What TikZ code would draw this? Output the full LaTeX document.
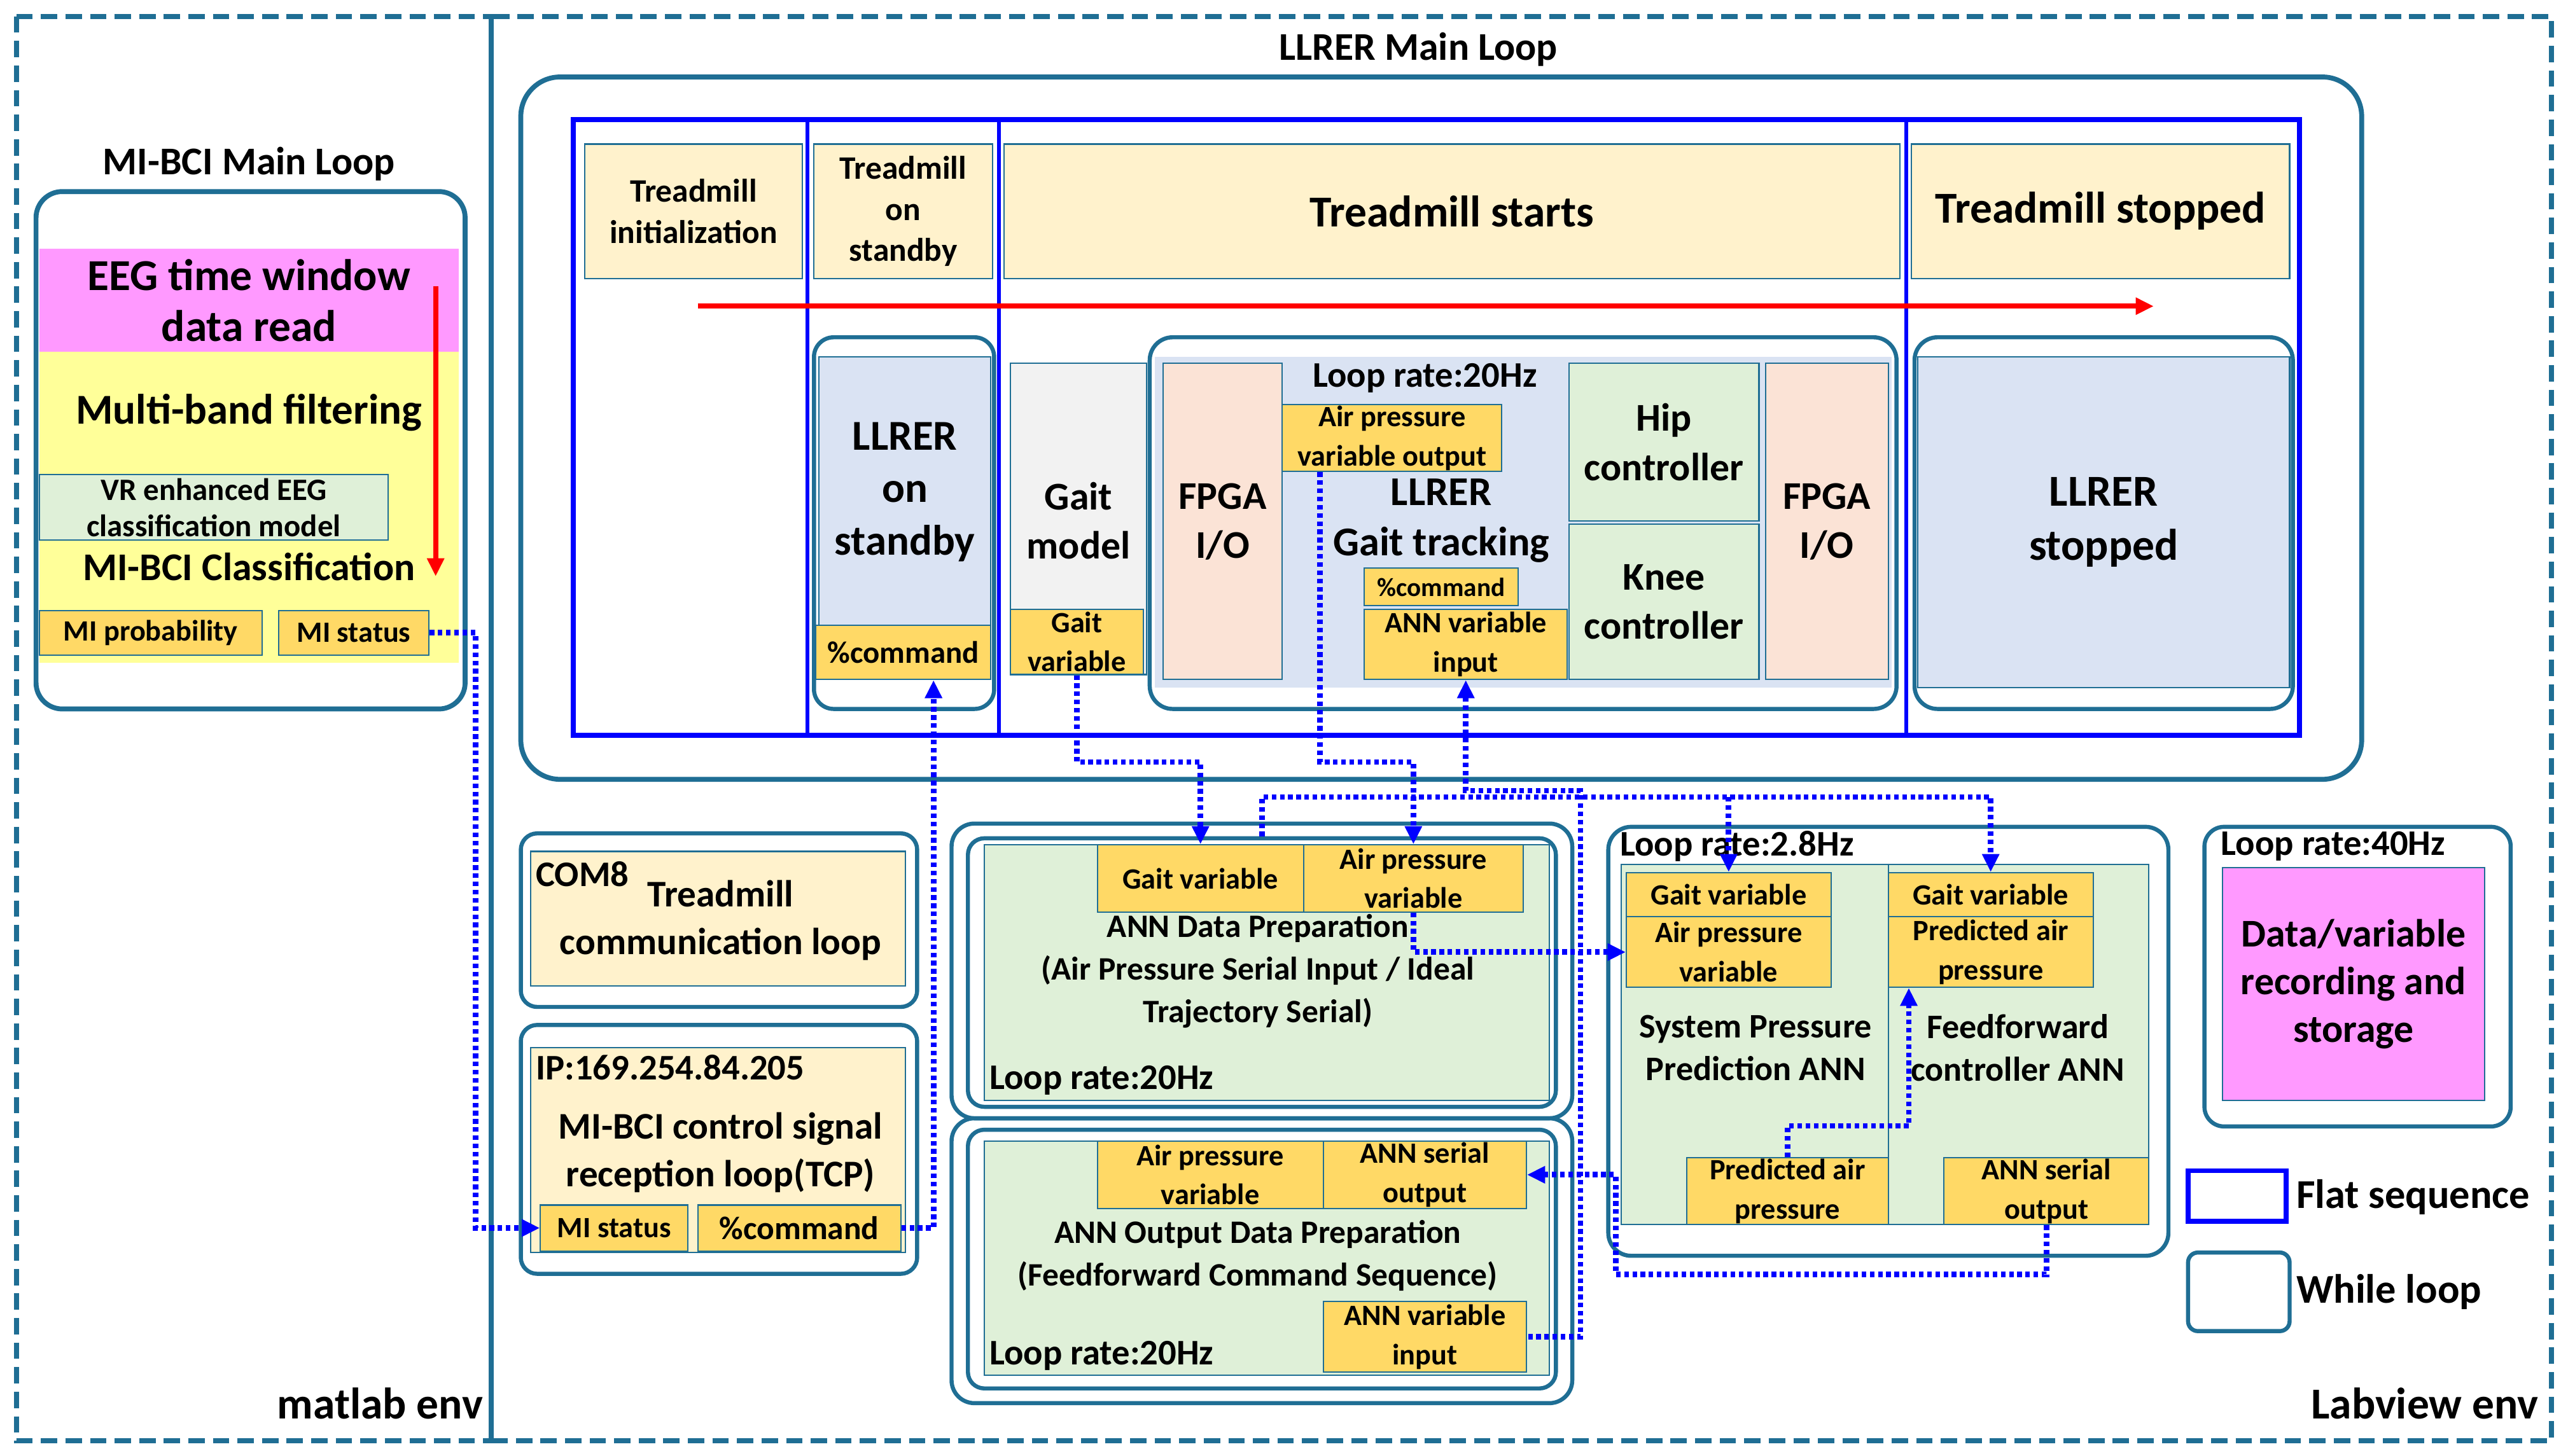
\documentclass[tikz,border=0pt]{standalone}
\usepackage{fontspec}
\setmainfont{Carlito}
\usetikzlibrary{arrows.meta,calc}
\definecolor{teal}{HTML}{1F6E94}
\definecolor{lb}{HTML}{DAE3F3}
\definecolor{gy}{HTML}{FFD966}
\definecolor{bg}{HTML}{FFF2CC}
\definecolor{gn}{HTML}{DFF0D8}
\definecolor{pk}{HTML}{FBE3D6}
\definecolor{mg}{HTML}{FF99FF}
\definecolor{yl}{HTML}{FFFF99}
\newcommand{\fs}[2]{\bfseries\fontsize{#1}{#2}\selectfont}
\begin{document}
\begin{tikzpicture}[x=1pt,y=-1pt,
 every node/.style={font=\bfseries,align=center,inner sep=0pt},
 bx/.style={draw=teal,line width=0.8pt,minimum width=#1},
 loop/.style={draw=teal,line width=3pt,rounded corners=16pt},
 lbl/.style={bx=#1,fill=gy,font=\fs{18}{22}},
 lbl2/.style={bx=#1,fill=gy,font=\fs{18}{24}},
 big/.style={font=\fs{27}{31}},
 mid/.style={font=\fs{24}{28}},
 conn/.style={draw=blue,line width=3.4pt,dash pattern=on 2.8pt off 2.2pt,-{Triangle[length=11pt,width=10pt]}}]
\useasboundingbox (0,0) rectangle (1568,889);
\fill[white] (0,0) rectangle (1568,889);
% env boxes
\draw[teal,line width=3pt,dash pattern=on 10pt off 5pt] (10,10) rectangle (300,880);
\draw[teal,line width=3pt,dash pattern=on 10pt off 5pt] (300,10) rectangle (1558,880);
\node[big,anchor=east] (matlab) at (295,857) {matlab env};
\node[big,anchor=east] (labview) at (1550,857) {Labview env};
% MI-BCI
\node[mid] (mititle) at (152,100) {MI-BCI Main Loop};
\node[loop,minimum width=262,minimum height=316] (miloop) at (153,275) {};
\node[fill=mg,minimum width=256,minimum height=63,font=\fs{27}{31}] (eeg) at (152,183.5) {EEG time window\\data read};
\node[fill=yl,minimum width=256,minimum height=190] (yel) at (152,310) {};
\node[font=\fs{26}{30}] (mbf) at (152,252) {Multi-band filtering};
\node[bx=213,minimum height=40,fill=gn,font=\fs{19}{22}] (vr) at (130.5,310) {VR enhanced EEG\\classification model};
\node[font=\fs{24}{28}] (mcls) at (152,346) {MI-BCI Classification};
\node[lbl=136,minimum height=27] (miprob) at (92,386.5) {MI probability};
\node[lbl=92,minimum height=27] (mist) at (216,386.5) {MI status};
\coordinate (ra) at (266,175); \coordinate (rb) at (266,352);
\draw[red,line width=3pt,-{Triangle[length=11pt,width=10pt]}] (ra) -- (rb);
% LLRER main
\node[mid] (lltitle) at (866,30) {LLRER Main Loop};
\node[loop,minimum width=1124,minimum height=429,rounded corners=24pt] (llloop) at (880,261.5) {};
\node[draw=blue,line width=3pt,minimum width=1054,minimum height=376] (flat) at (877,261) {};
\draw[blue,line width=2.5pt] (493,73) -- (493,449) (610,73) -- (610,449) (1164,73) -- (1164,449);
\node[bx=133,minimum height=82,fill=bg,font=\fs{20}{25}] (tinit) at (423.5,129) {Treadmill\\initialization};
\node[bx=109,minimum height=82,fill=bg,font=\fs{20}{25}] (tstand) at (551.5,129) {Treadmill\\on\\standby};
\node[bx=547,minimum height=82,fill=bg,big] (tstart) at (886.5,129) {Treadmill starts};
\node[bx=231,minimum height=82,fill=bg,big] (tstop) at (1282.5,129) {Treadmill stopped};
\coordinate (ta) at (426,187); \coordinate (tb) at (1315,187);
\draw[red,line width=3pt,-{Triangle[length=11pt,width=10pt]}] (ta) -- (tb);
% standby
\node[loop,minimum width=110,minimum height=227,line width=2.5pt,rounded corners=12pt] (sbloop) at (552,319.5) {};
\node[bx=105,minimum height=165,fill=lb,font=\fs{26}{32}] (sbin) at (552.5,300.5) {LLRER\\on\\standby};
\node[lbl=107,minimum height=33,font=\fs{19}{22}] (cmd1) at (551.5,398.5) {\%command};
% gait model
\node[bx=83,minimum height=190,fill=gray!10] (gm) at (658.5,317) {};
\node[font=\fs{24}{30}] (gmt) at (658.5,318) {Gait\\model};
\node[lbl2=81,minimum height=40] (gvar) at (657.5,392) {Gait\\variable};
% tracking
\node[loop,minimum width=456,minimum height=227,line width=2.5pt,rounded corners=14pt] (trloop) at (930,319.5) {};
\node[fill=lb,minimum width=450,minimum height=202] (trin) at (930,319) {};
\node[bx=73,minimum height=193,fill=pk,font=\fs{24}{30}] (fpga1) at (746.5,318.5) {FPGA\\I/O};
\node[bx=116,minimum height=96,fill=gn,font=\fs{24}{30}] (hip) at (1016,270) {Hip\\controller};
\node[bx=116,minimum height=95,fill=gn,font=\fs{24}{30}] (knee) at (1016,367.5) {Knee\\controller};
\node[bx=75,minimum height=193,fill=pk,font=\fs{24}{30}] (fpga2) at (1115.5,318.5) {FPGA\\I/O};
\node[font=\fs{22}{26}] (lr1) at (870,231) {Loop rate:20Hz};
\node[lbl2=134,minimum height=41] (apout) at (850,267.5) {Air pressure\\variable output};
\node[font=\fs{25}{31}] (gtr) at (880,318) {LLRER\\Gait tracking};
\node[lbl=94,minimum height=23,font=\fs{16}{18}] (cmd2) at (880,358.5) {\%command};
\node[lbl2=124,minimum height=43] (annin) at (895,393.5) {ANN variable\\input};
% stopped
\node[loop,minimum width=231,minimum height=227,line width=2.5pt,rounded corners=14pt] (stloop) at (1284.5,319.5) {};
\node[bx=227,minimum height=202,fill=lb,font=\fs{27}{33}] (stin) at (1284.5,319) {LLRER\\stopped};
% COM8
\node[loop,minimum width=242,minimum height=106,line width=2.5pt,rounded corners=10pt] (c8loop) at (439,562) {};
\node[bx=229,minimum height=82,fill=bg] (c8in) at (438.5,561) {};
\node[font=\fs{22}{26},anchor=west] (c8) at (327,534) {COM8};
\node[font=\fs{23}{29}] (c8t) at (440,562) {Treadmill\\communication loop};
% IP
\node[loop,minimum width=242,minimum height=152,line width=2.5pt,rounded corners=10pt] (iploop) at (439,702) {};
\node[bx=229,minimum height=125,fill=bg] (ipin) at (438.5,702.5) {};
\node[font=\fs{22}{26},anchor=west] (ip) at (327,652) {IP:169.254.84.205};
\node[font=\fs{23}{29}] (ipt) at (440,704) {MI-BCI control signal\\reception loop(TCP)};
\node[lbl=90,minimum height=28] (mist2) at (375,750) {MI status};
\node[lbl=124,minimum height=28,font=\fs{20}{22}] (cmd3) at (488,750) {\%command};
% ANN data prep
\node[loop,minimum width=379,minimum height=180,line width=2.5pt,rounded corners=14pt] (apo) at (770.5,593) {};
\node[loop,minimum width=359,minimum height=164,line width=2.5pt,rounded corners=10pt] (api) at (770.5,594) {};
\node[bx=345,minimum height=156,fill=gn] (apg) at (773.5,594) {};
\node[lbl=126,minimum height=41] (gv1) at (733,536.5) {Gait variable};
\node[lbl2=134,minimum height=41] (ap1) at (863,536.5) {Air pressure\\variable};
\node[font=\fs{20}{26}] (apt) at (768,593) {ANN Data Preparation\\(Air Pressure Serial Input / Ideal\\Trajectory Serial)};
\node[font=\fs{22}{26},anchor=west] (lr2) at (604,660) {Loop rate:20Hz};
% ANN output
\node[loop,minimum width=379,minimum height=174,line width=2.5pt,rounded corners=14pt] (aoo) at (770.5,770) {};
\node[loop,minimum width=359,minimum height=158,line width=2.5pt,rounded corners=10pt] (aoi) at (770.5,769) {};
\node[bx=345,minimum height=143,fill=gn] (aog) at (773.5,768.5) {};
\node[lbl2=138,minimum height=41] (ap2) at (739,717.5) {Air pressure\\variable};
\node[lbl2=124,minimum height=41] (sero1) at (870,717.5) {ANN serial\\output};
\node[font=\fs{20}{26}] (aot) at (768,767) {ANN Output Data Preparation\\(Feedforward Command Sequence)};
\node[lbl2=124,minimum height=43] (annin2) at (870,816.5) {ANN variable\\input};
\node[font=\fs{22}{26},anchor=west] (lr3) at (604,828) {Loop rate:20Hz};
% ANN loop 2.8Hz
\node[loop,minimum width=342,minimum height=262,line width=2.5pt,rounded corners=14pt] (anl) at (1153,636) {};
\node[bx=322,minimum height=220,fill=gn] (ang) at (1151,638) {};
\draw[teal,line width=0.8pt] (1153,528) -- (1153,707);
\node[font=\fs{22}{26},anchor=west] (lr4) at (989,517) {Loop rate:2.8Hz};
\node[lbl=125,minimum height=27] (gv2) at (1055.5,546.5) {Gait variable};
\node[lbl2=125,minimum height=43] (ap3) at (1055.5,581.5) {Air pressure\\variable};
\node[lbl=125,minimum height=27] (gv3) at (1215.5,546.5) {Gait variable};
\node[lbl2=125,minimum height=43] (pap1) at (1215.5,581.5) {Predicted air\\pressure};
\node[font=\fs{21}{26}] (spp) at (1072,640) {System Pressure\\Prediction ANN};
\node[font=\fs{21}{26}] (ffc) at (1232,640) {Feedforward\\controller ANN};
\node[lbl2=123,minimum height=41] (pap2) at (1091.5,727.5) {Predicted air\\pressure};
\node[lbl2=125,minimum height=41] (sero2) at (1249.5,727.5) {ANN serial\\output};
% recording
\node[loop,minimum width=187,minimum height=183,line width=2.5pt,rounded corners=12pt] (rec) at (1439.5,596.5) {};
\node[font=\fs{22}{26},anchor=west] (lr5) at (1356,517) {Loop rate:40Hz};
\node[bx=160,minimum height=142,fill=mg,font=\fs{24}{29}] (recm) at (1437,601) {Data/variable\\recording and\\storage};
% legend
\node[draw=blue,line width=3pt,minimum width=60,minimum height=31] (lgf) at (1366,730.5) {};
\node[font=\fs{25}{29},anchor=west] (lgft) at (1402,731) {Flat sequence};
\node[loop,line width=2.5pt,rounded corners=6pt,minimum width=62,minimum height=48] (lgw) at (1367,789) {};
\node[font=\fs{25}{29},anchor=west] (lgwt) at (1402,789) {While loop};
% connectors
\draw[conn] (mist.east) -- ++(28,0) |- (mist2.west);
\draw[conn] (cmd3.east) -| ($(cmd1.south)+(18.5,0)$);
\draw[conn] (gvar.south) -- ++(0,53) -| (gv1.north);
\draw[conn] ($(apout.south)+(-44,0)$) -- ++(0,177) -| (ap1.north);
\draw[conn,{Triangle[length=11pt,width=10pt]}-] (annin.south) -- ++(0,67.5) -- ++(70,0) |- (annin2.east);
\draw[conn] (api.north) -- ++(0,-24) coordinate (b0) -| (gv3.north);
\draw[conn] (b0 -| gv2.north) -- (gv2.north);
\draw[conn] (ap1.south) |- (ap3.west);
\draw[conn] (pap2.north) -- ++(0,-19) -| ($(pap1.south)+(-50,0)$);
\draw[conn] (sero2.south) -- ++(0,30) -- ++(-263,0) |- (sero1.east);
\end{tikzpicture}
\end{document}
